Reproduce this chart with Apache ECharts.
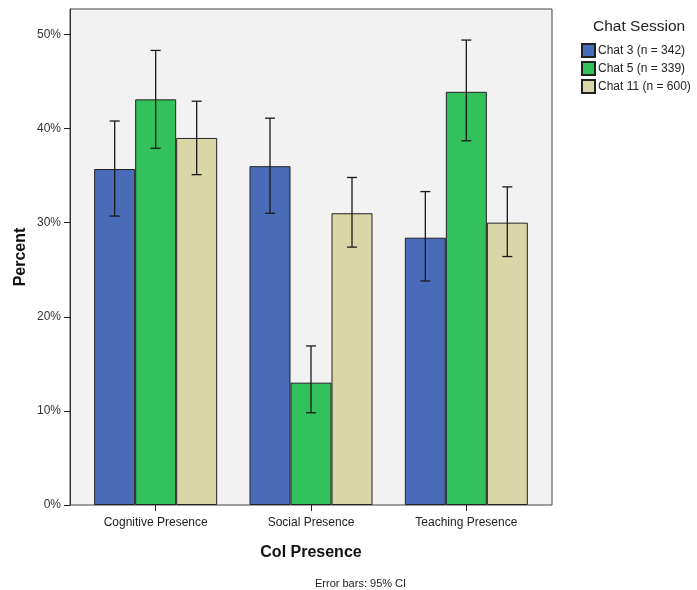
<!DOCTYPE html>
<html><head><meta charset="utf-8">
<script src="https://cdn.jsdelivr.net/npm/echarts@6/dist/echarts.min.js"></script>
<style>html,body{margin:0;padding:0;background:#fff}#c{width:697px;height:590px}</style>
</head><body><div id="c"></div>
<script>
const categories = ['Cognitive Presence', 'Social Presence', 'Teaching Presence'];
const seriesNames = ['Chat 3 (n = 342)', 'Chat 5 (n = 339)', 'Chat 11 (n = 600)'];
const chat3 = [35.7, 36.0, 28.4];
const chat5 = [43.1, 13.0, 43.9];
const chat11 = [39.0, 31.0, 30.0];
const chat3Low = [30.7, 31.0, 23.8];
const chat3High = [40.8, 41.1, 33.3];
const chat5Low = [37.9, 9.8, 38.7];
const chat5High = [48.3, 16.9, 49.4];
const chat11Low = [35.1, 27.4, 26.4];
const chat11High = [42.9, 34.8, 33.8];
const yTicks = [0, 10, 20, 30, 40, 50];

const colors = ['#4a6cb8', '#33c15b', '#d9d6a8'];
const font = 'Liberation Sans, Arial, sans-serif';
const BAR_W = 41;
const values = [chat3, chat5, chat11];
const lows = [chat3Low, chat5Low, chat11Low];
const highs = [chat3High, chat5High, chat11High];
const YMAX = 52.7;

const chart = echarts.init(document.getElementById('c'));
const barSeries = seriesNames.map((n, i) => ({
  name: n, type: 'bar', xAxisIndex: 1, yAxisIndex: 1,
  data: values[i], barWidth: BAR_W, barGap: '0%',
  itemStyle: { color: colors[i], borderColor: '#222', borderWidth: 1 },
  emphasis: { disabled: true }
}));
const errSeries = seriesNames.map((n, i) => ({
  type: 'custom', xAxisIndex: 1, yAxisIndex: 1, z: 5,
  data: categories.map((c, k) => [k, lows[i][k], highs[i][k]]),
  renderItem: function (params, api) {
    const k = api.value(0);
    const lo = api.coord([k, api.value(1)]);
    const hi = api.coord([k, api.value(2)]);
    const x = lo[0] + (i - 1) * BAR_W;
    const hw = 5;
    const st = { stroke: '#1a1a1a', lineWidth: 1.3 };
    return { type: 'group', children: [
      { type: 'line', shape: { x1: x, y1: lo[1], x2: x, y2: hi[1] }, style: st },
      { type: 'line', shape: { x1: x - hw, y1: lo[1], x2: x + hw, y2: lo[1] }, style: st },
      { type: 'line', shape: { x1: x - hw, y1: hi[1], x2: x + hw, y2: hi[1] }, style: st }
    ]};
  }
}));

chart.setOption({
  animation: false,
  textStyle: { fontFamily: font },
  grid: [
    { left: 70, right: 145, top: 9, bottom: 85, show: true, backgroundColor: '#f2f2f2', borderColor: '#444', borderWidth: 1, z: 0 },
    { left: 78, right: 153, top: 9, bottom: 85 }
  ],
  xAxis: [
    { gridIndex: 0, type: 'value', min: 0, max: 1, show: false },
    { gridIndex: 1, type: 'category', data: categories,
      axisLine: { show: false },
      axisTick: { show: true, alignWithLabel: true, length: 6, lineStyle: { color: '#222' } },
      axisLabel: { color: '#222', fontSize: 12, margin: 12, fontFamily: font },
      name: 'CoI Presence', nameLocation: 'middle', nameGap: 40,
      nameTextStyle: { color: '#111', fontSize: 16, fontWeight: 'bold', fontFamily: font } }
  ],
  yAxis: [
    { gridIndex: 0, type: 'value', min: 0, max: YMAX, interval: 10,
      axisLine: { show: true, lineStyle: { color: '#333', width: 1 } },
      axisTick: { show: true, length: 6, customValues: yTicks, lineStyle: { color: '#222' } },
      axisLabel: { color: '#333', fontSize: 12, margin: 9, customValues: yTicks, formatter: v => (v % 10 === 0 ? v + '%' : ''), fontFamily: font },
      splitLine: { show: false } },
    { gridIndex: 1, type: 'value', min: 0, max: YMAX, show: false, splitLine: { show: false } }
  ],
  legend: {
    orient: 'vertical', left: 581, top: 43, padding: 0, itemWidth: 13, itemHeight: 13, itemGap: 3,
    icon: 'rect', selectedMode: false, data: seriesNames,
    textStyle: { color: '#222', fontSize: 12, lineHeight: 13, fontFamily: font, padding: [0, 0, 0, -2] }
  },
  graphic: [
    { type: 'text', x: 21, y: 257, rotation: Math.PI / 2,
      style: { text: 'Percent', fontSize: 16, fontWeight: 'bold', fill: '#111', fontFamily: font, align: 'center', verticalAlign: 'middle' } },
    { type: 'text', left: 593, top: 19, style: { text: 'Chat Session', fontSize: 15.5, fill: '#222', fontFamily: font } },
    { type: 'text', left: 315, top: 578, style: { text: 'Error bars: 95% CI', fontSize: 11, fill: '#222', fontFamily: font } }
  ],
  series: barSeries.concat(errSeries)
});
</script></body></html>
